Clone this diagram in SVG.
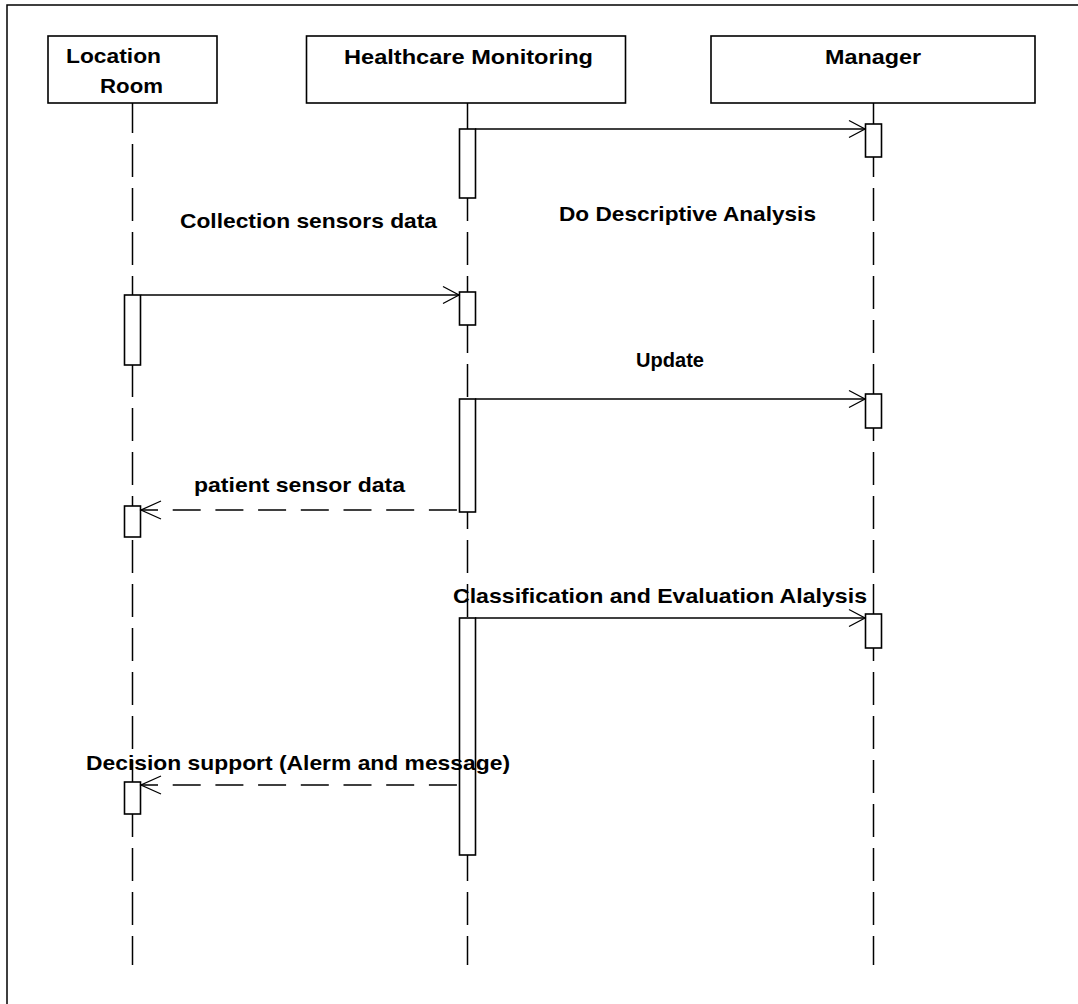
<svg xmlns="http://www.w3.org/2000/svg" width="1078" height="1004" viewBox="0 0 1078 1004">
  <style>
    .bg { fill: #ffffff; }
    .frame { fill: none; stroke: #000; stroke-width: 1.5; }
    .box { fill: #ffffff; stroke: #000; stroke-width: 1.6; }
    .act { fill: none; stroke: #000; stroke-width: 1.6; }
    .life { stroke: #000; stroke-width: 1.5; stroke-dasharray: 33 11; stroke-dashoffset: 3; }
    .msg { fill: none; stroke: #000; stroke-width: 1.5; }
    .ret { fill: none; stroke: #000; stroke-width: 1.5; stroke-dasharray: 28 14.7; stroke-dashoffset: 11; }
    .head { fill: none; stroke: #000; stroke-width: 1.3; }
    text { font-family: "Liberation Sans", Arial, sans-serif; font-weight: bold; font-size: 21px; fill: #000; }
  </style>
  <defs>
    <marker id="open" markerUnits="userSpaceOnUse" markerWidth="20" markerHeight="20" refX="17" refY="9" orient="auto" overflow="visible">
      <path class="head" d="M1,0.5 L17,9 L1,17.5"/>
    </marker>
    <marker id="openRet" markerUnits="userSpaceOnUse" markerWidth="24" markerHeight="22" refX="0" refY="9" orient="auto" overflow="visible">
      <path class="head" d="M20,0 L0,9 L20,18"/>
    </marker>
    <mask id="lifeMask" maskUnits="userSpaceOnUse" x="0" y="0" width="1078" height="1004">
      <rect x="0" y="0" width="1078" height="1004" fill="#fff"/>
      <rect x="124.5" y="295" width="16" height="70" fill="#000"/>
      <rect x="124.5" y="506" width="16" height="31" fill="#000"/>
      <rect x="124.5" y="782" width="16" height="32" fill="#000"/>
      <rect x="459.5" y="129" width="16" height="69" fill="#000"/>
      <rect x="459.5" y="292" width="16" height="33" fill="#000"/>
      <rect x="459.5" y="399" width="16" height="113" fill="#000"/>
      <rect x="459.5" y="618" width="16" height="237" fill="#000"/>
      <rect x="865.5" y="124" width="16" height="33" fill="#000"/>
      <rect x="865.5" y="394" width="16" height="34" fill="#000"/>
      <rect x="865.5" y="614" width="16" height="34" fill="#000"/>
    </mask>
  </defs>

  <rect class="bg" x="0" y="0" width="1078" height="1004"/>
  <path class="frame" d="M7,1004 V5 H1078"/>

  <g id="connectors">
    <text x="559" y="221" textLength="257" lengthAdjust="spacingAndGlyphs">Do Descriptive Analysis</text>
    <line class="msg" x1="475" y1="129" x2="865" y2="129" marker-end="url(#open)"/>

    <text x="180" y="228" textLength="257" lengthAdjust="spacingAndGlyphs">Collection sensors data</text>
    <line class="msg" x1="141" y1="295" x2="459" y2="295" marker-end="url(#open)"/>

    <text x="636" y="367" textLength="68" lengthAdjust="spacingAndGlyphs">Update</text>
    <line class="msg" x1="475" y1="399" x2="865" y2="399" marker-end="url(#open)"/>

    <text x="194" y="492" textLength="211" lengthAdjust="spacingAndGlyphs">patient sensor data</text>
    <line class="ret" x1="141" y1="510" x2="459" y2="510" marker-start="url(#openRet)"/>

    <text x="453" y="603" textLength="414" lengthAdjust="spacingAndGlyphs">Classification and Evaluation Alalysis</text>
    <line class="msg" x1="475" y1="618" x2="865" y2="618" marker-end="url(#open)"/>

    <text x="86" y="770" textLength="424" lengthAdjust="spacingAndGlyphs">Decision support (Alerm and message)</text>
    <line class="ret" x1="141" y1="785" x2="459" y2="785" marker-start="url(#openRet)"/>
  </g>

  <g id="location-room">
    <line class="life" x1="132.5" y1="103" x2="132.5" y2="965" mask="url(#lifeMask)"/>
    <rect class="box" x="48" y="36" width="169" height="67"/>
    <text x="66" y="63" textLength="95" lengthAdjust="spacingAndGlyphs">Location</text>
    <text x="100" y="93" textLength="63" lengthAdjust="spacingAndGlyphs">Room</text>
    <rect class="act" x="124.5" y="295" width="16" height="70"/>
    <rect class="act" x="124.5" y="506" width="16" height="31"/>
    <rect class="act" x="124.5" y="782" width="16" height="32"/>
  </g>

  <g id="healthcare-monitoring">
    <line class="life" x1="467.5" y1="103" x2="467.5" y2="965" mask="url(#lifeMask)"/>
    <rect class="box" x="306.5" y="36" width="319" height="67"/>
    <text x="344" y="64" textLength="249" lengthAdjust="spacingAndGlyphs">Healthcare Monitoring</text>
    <rect class="act" x="459.5" y="129" width="16" height="69"/>
    <rect class="act" x="459.5" y="292" width="16" height="33"/>
    <rect class="act" x="459.5" y="399" width="16" height="113"/>
    <rect class="act" x="459.5" y="618" width="16" height="237"/>
  </g>

  <g id="manager">
    <line class="life" x1="873.5" y1="103" x2="873.5" y2="965" mask="url(#lifeMask)"/>
    <rect class="box" x="711" y="36" width="324" height="67"/>
    <text x="825" y="64" textLength="96" lengthAdjust="spacingAndGlyphs">Manager</text>
    <rect class="act" x="865.5" y="124" width="16" height="33"/>
    <rect class="act" x="865.5" y="394" width="16" height="34"/>
    <rect class="act" x="865.5" y="614" width="16" height="34"/>
  </g>
</svg>
